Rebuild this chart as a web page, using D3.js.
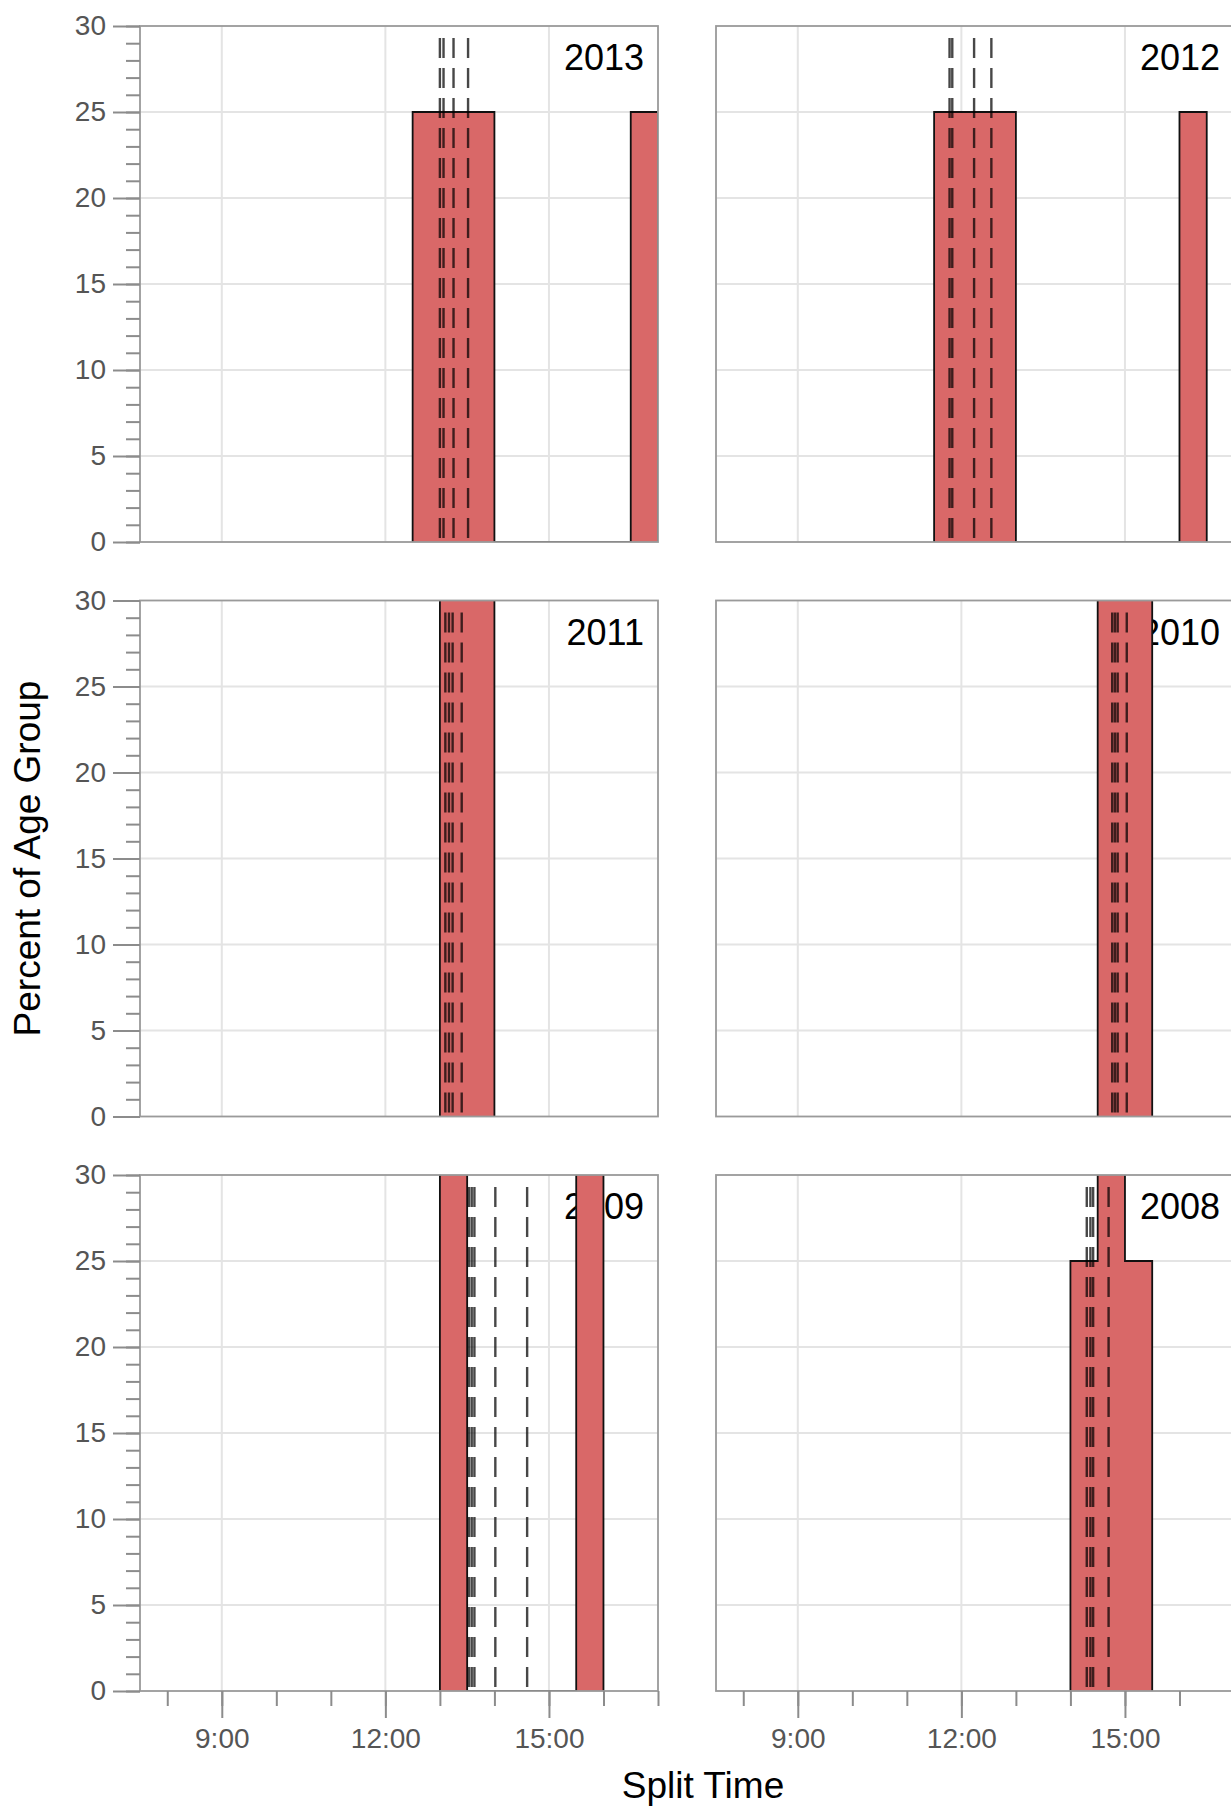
<!DOCTYPE html>
<html>
<head>
<meta charset="utf-8">
<script src="https://cdn.jsdelivr.net/npm/d3@7"></script>
<style>
  body { margin: 0; background: #ffffff; }
  text { font-family: "Liberation Sans", Arial, Helvetica, sans-serif; }
</style>
</head>
<body>
<svg id="chart"></svg>
<script>
// figure size and panel layout
const width = 1231, height = 1814;
const margin = {top: 26, left: 140};
const panelW = 518, panelH = 516;
const colStep = 576, rowStep = 574.5;

// years in reading order (two panels per row)
const years = [2013, 2012, 2011, 2010, 2009, 2008];

// half-hour histogram bins (start time of each bin)
const binStarts = ["11:30", "12:00", "12:30", "13:00", "13:30", "14:00", "14:30", "15:00", "15:30", "16:00", "16:30"];

// percent of age group per bin
const pct2013 = [0, 0, 25, 25, 25, 0, 0, 0, 0, 0, 25];
const pct2012 = [25, 25, 25, 0, 0, 0, 0, 0, 0, 25, 0];
const pct2011 = [0, 0, 0, 50, 50, 0, 0, 0, 0, 0, 0];
const pct2010 = [0, 0, 0, 0, 0, 0, 50, 50, 0, 0, 0];
const pct2009 = [0, 0, 0, 50, 0, 0, 0, 0, 50, 0, 0];
const pct2008 = [0, 0, 0, 0, 0, 25, 50, 25, 0, 0, 0];

// individual split times (dashed lines)
const splits2013 = ["13:00", "13:04", "13:15", "13:31"];
const splits2012 = ["11:47", "11:50", "12:14", "12:33"];
const splits2011 = ["13:06", "13:10", "13:14", "13:24"];
const splits2010 = ["14:46", "14:49", "14:52", "15:02"];
const splits2009 = ["13:32", "13:35", "13:38", "14:01", "14:36"];
const splits2008 = ["14:18", "14:22", "14:25", "14:42"];

const pctByYear = [pct2013, pct2012, pct2011, pct2010, pct2009, pct2008];
const splitsByYear = [splits2013, splits2012, splits2011, splits2010, splits2009, splits2008];

const yTicks = [0, 5, 10, 15, 20, 25, 30];

const parseTime = d3.timeParse("%H:%M");
const binWidth = 30; // minutes

const svg = d3.select("#chart")
    .attr("width", width)
    .attr("height", height)
    .style("background", "#ffffff");

const xScale = d3.scaleTime()
    .domain([parseTime("7:30"), parseTime("17:00")])
    .range([0, panelW]);

const yScale = d3.scaleLinear()
    .domain([0, 30])
    .range([panelH, 0]);

const red = "rgb(217, 104, 104)";

years.forEach((year, i) => {
    const col = i % 2, row = Math.floor(i / 2);
    const g = svg.append("g")
        .attr("transform", `translate(${margin.left + col * colStep},${margin.top + row * rowStep})`);

    // clip
    g.append("clipPath")
        .attr("id", "clip" + year)
        .append("rect")
        .attr("width", panelW)
        .attr("height", panelH);

    // grid
    g.append("g")
        .selectAll("line")
        .data(yTicks.slice(1, -1))
        .join("line")
        .attr("x1", 0).attr("x2", panelW)
        .attr("y1", d => yScale(d)).attr("y2", d => yScale(d))
        .attr("stroke", "#e4e4e4")
        .attr("stroke-width", 2);

    g.append("g")
        .selectAll("line")
        .data(xScale.ticks(d3.timeHour.every(3)))
        .join("line")
        .attr("x1", d => xScale(d)).attr("x2", d => xScale(d))
        .attr("y1", 0).attr("y2", panelH)
        .attr("stroke", "#e4e4e4")
        .attr("stroke-width", 2);

    // year label (under the bars)
    g.append("text")
        .attr("x", panelW - 14)
        .attr("y", 44)
        .attr("text-anchor", "end")
        .style("font-size", "36px")
        .style("fill", "#000")
        .text(year);

    // histogram as a step outline, trimmed to the bins that hold data
    const vals = pctByYear[i];
    const first = vals.findIndex(v => v > 0);
    const last = vals.length - 1 - [...vals].reverse().findIndex(v => v > 0);
    const pts = [];
    for (let b = first; b <= last; b++) {
        const s = parseTime(binStarts[b]);
        const e = d3.timeMinute.offset(s, binWidth);
        pts.push({t: s, v: vals[b]}, {t: e, v: vals[b]});
    }
    pts.unshift({t: pts[0].t, v: 0});
    pts.push({t: pts[pts.length - 1].t, v: 0});

    const plot = g.append("g").attr("clip-path", `url(#clip${year})`);

    plot.append("path")
        .datum(pts)
        .attr("fill", red)
        .attr("d", d3.area().x(d => xScale(d.t)).y0(yScale(0)).y1(d => yScale(d.v)));

    plot.append("path")
        .datum(pts)
        .attr("fill", "none")
        .attr("stroke", "#111")
        .attr("stroke-width", 1.8)
        .attr("d", d3.line().x(d => xScale(d.t)).y(d => yScale(d.v)));

    // dashed split lines
    plot.append("g")
        .selectAll("line")
        .data(splitsByYear[i].map(parseTime))
        .join("line")
        .attr("x1", d => xScale(d)).attr("x2", d => xScale(d))
        .attr("y1", 12).attr("y2", panelH)
        .attr("stroke", "#000")
        .attr("stroke-opacity", 0.72)
        .attr("stroke-width", 2.4)
        .attr("stroke-dasharray", "20,10");

    // panel border
    g.append("rect")
        .attr("width", panelW)
        .attr("height", panelH)
        .attr("fill", "none")
        .attr("stroke", "#9a9a9a")
        .attr("stroke-width", 1.8);

    // y axis on the left column
    if (col === 0) {
        const yMinor = g.append("g")
            .call(d3.axisLeft(yScale).ticks(30).tickSize(14).tickFormat(""));
        const yMajor = g.append("g")
            .call(d3.axisLeft(yScale).tickValues(yTicks).tickSize(27).tickPadding(7));
        [yMinor, yMajor].forEach(a => {
            a.select(".domain").remove();
            a.selectAll("line").attr("stroke", "#8c8c8c").attr("stroke-width", 2);
        });
        yMajor.selectAll("text")
            .style("font-size", "28px")
            .style("fill", "#555")
            .style("font-family", "'Liberation Sans', Arial, Helvetica, sans-serif");
    }

    // x axis on the bottom row
    if (row === 2) {
        const xMinor = g.append("g")
            .attr("transform", `translate(0,${panelH})`)
            .call(d3.axisBottom(xScale).ticks(d3.timeHour.every(1)).tickSize(15).tickFormat(""));
        const xMajor = g.append("g")
            .attr("transform", `translate(0,${panelH})`)
            .call(d3.axisBottom(xScale).ticks(d3.timeHour.every(3)).tickSize(27).tickPadding(10)
                .tickFormat(d3.timeFormat("%-H:%M")));
        [xMinor, xMajor].forEach(a => {
            a.select(".domain").remove();
            a.selectAll("line").attr("stroke", "#8c8c8c").attr("stroke-width", 2);
        });
        xMajor.selectAll("text")
            .style("font-size", "28px")
            .style("fill", "#555")
            .style("font-family", "'Liberation Sans', Arial, Helvetica, sans-serif");
    }
});

// axis titles
svg.append("text")
    .attr("transform", `translate(40,${margin.top + (2 * rowStep + panelH) / 2}) rotate(-90)`)
    .attr("text-anchor", "middle")
    .style("font-size", "37px")
    .style("fill", "#000")
    .text("Percent of Age Group");

svg.append("text")
    .attr("x", 703)
    .attr("y", 1798)
    .attr("text-anchor", "middle")
    .style("font-size", "37px")
    .style("fill", "#000")
    .text("Split Time");
</script>
</body>
</html>
